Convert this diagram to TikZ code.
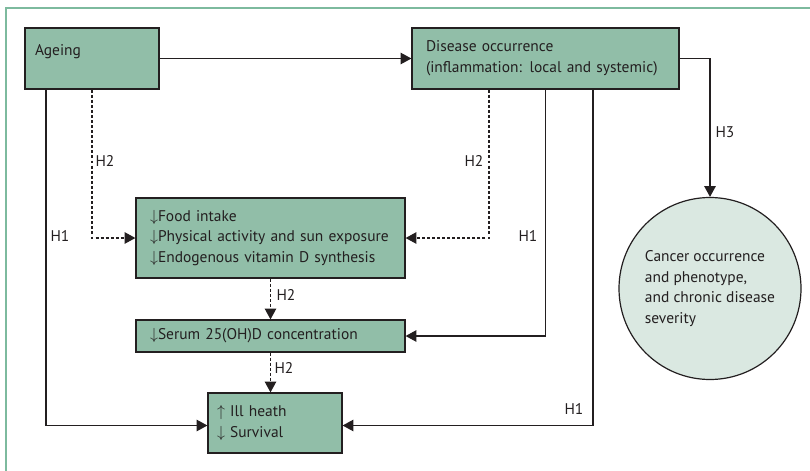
\documentclass[tikz,border=0pt]{standalone}
\usepackage{fontspec}
\setmainfont{PT Sans}
\usepackage{xcolor}
\usetikzlibrary{arrows.meta,calc}
\definecolor{boxgreen}{RGB}{145,190,168}
\definecolor{circgreen}{RGB}{218,232,225}
\definecolor{framegreen}{RGB}{125,186,158}
\definecolor{linegray}{RGB}{35,31,32}
\tikzset{every picture/.style={line width=0.9pt}}
\tikzset{
  box/.style={draw=linegray, fill=boxgreen, align=left, inner xsep=10.5pt, inner ysep=0pt,
    font=\fontsize{11.6pt}{15.5pt}\selectfont, text=linegray},
  circ/.style={circle, draw=linegray, fill=circgreen, align=left, inner sep=0pt,
    minimum size=136.5pt, font=\fontsize{11.6pt}{15.5pt}\selectfont, text=linegray},
  lbl/.style={inner sep=0pt, font=\fontsize{11.6pt}{15.5pt}\selectfont, text=linegray},
  arr/.style={draw=linegray, -{Triangle[length=8pt,width=8.5pt]}},
  dsh/.style={dash pattern=on 2.2pt off 1.6pt}
}

\begin{document}
\begin{tikzpicture}[x=0.75pt,y=0.75pt,yscale=-1,xscale=1]
\useasboundingbox (0,0) rectangle (810,471);

%Shape: Frame lines
\draw [framegreen, line width=1.5pt] (6,471) -- (6,7.5) -- (810,7.5) ;

%Shape: Rectangle
\node [box, text width=85.5pt, inner xsep=7.5pt, text height=20.25pt, text depth=25.5pt] (ageing) at (92,58.5) {Ageing};
%Shape: Rectangle
\node [box, text width=179.25pt, minimum height=45.75pt] (disease) at (545.5,58.5) {Disease occurrence\\(inflammation: local and systemic)};
%Shape: Rectangle
\node [box, text width=180.75pt, minimum height=60pt] (food) at (270.5,238) {$\downarrow$Food intake\\$\downarrow$Physical activity and sun exposure\\$\downarrow$Endogenous vitamin D synthesis};
%Shape: Rectangle
\node [box, text width=180.75pt, minimum height=24pt] (serum) at (270.5,336) {$\downarrow$Serum 25(OH)D concentration};
%Shape: Rectangle
\node [box, text width=87pt, inner xsep=6.75pt, minimum height=45pt] (ill) at (275,423) {$\uparrow$ Ill heath\\$\downarrow$ Survival};
%Shape: Circle
\node [circ] (cancer) at (710,288.5) {Cancer occurrence\\and phenotype,\\and chronic disease\\severity};

%Straight Lines
\draw [arr] (ageing) -- (disease) ;
%Straight Lines
\draw [arr] ($(ageing.south)+(-46,0)$) |- ($(ill.west)+(0,2.5)$) ;
%Straight Lines
\draw [arr, dsh] (ageing.south) |- (food.west) ;
%Straight Lines
\draw [arr, dsh] ($(disease.south)+(-56.5,0)$) |- (food.east) ;
%Straight Lines
\draw [arr] (disease.south) |- (serum.east) ;
%Straight Lines
\draw [arr] ($(disease.south)+(47.5,0)$) |- ($(ill.east)+(0,2.5)$) ;
%Straight Lines
\draw [arr] (disease.east) -| (cancer.north) ;
%Straight Lines
\draw [arr, dsh] (food) -- (serum) ;
%Straight Lines
\draw [arr, dsh] (serum.south) -- (serum.south |- ill.north) ;

% Text Node
\node [lbl] (h1ageing) at (60,236) {H1};
% Text Node
\node [lbl] (h2ageing) at (105,161) {H2};
% Text Node
\node [lbl] (h2disease) at (474,161) {H2};
% Text Node
\node [lbl] (h1serum) at (528,236) {H1};
% Text Node
\node [lbl] (h1ill) at (574,409) {H1};
% Text Node
\node [lbl] (h3) at (725,132) {H3};
% Text Node
\node [lbl] (h2food) at (286,295) {H2};
% Text Node
\node [lbl] (h2serum) at (284,368) {H2};

\end{tikzpicture}
\end{document}
